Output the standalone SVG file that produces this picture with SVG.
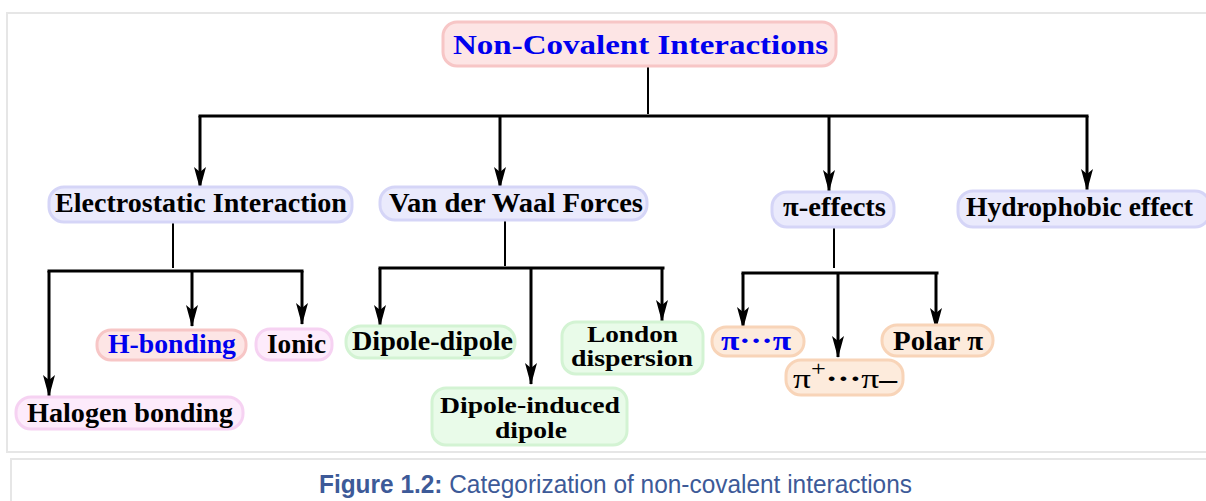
<svg xmlns="http://www.w3.org/2000/svg" width="1206" height="501" viewBox="0 0 1206 501">
<style>
  .t { font-family: "Liberation Serif", "Times New Roman", serif; font-weight: bold; font-size: 27px; fill: #000; }
  .two { font-size: 24px; }
  .blue { fill: #0000ee; }
  .reg { font-weight: normal; }
  .pink { fill: #fde5e5; stroke: #f7c6c6; stroke-width: 3; }
  .lav { fill: #eaeafc; stroke: #d5d5f7; stroke-width: 3; }
  .mag { fill: #fdebfb; stroke: #f6d2f2; stroke-width: 3; }
  .grn { fill: #e9fbe9; stroke: #d3f3d3; stroke-width: 3; }
  .pch { fill: #fdebdc; stroke: #f8d4b8; stroke-width: 3; }
  .ln { stroke: #000; stroke-width: 3; fill: none; }
  .thin { stroke: #000; stroke-width: 2; fill: none; }
  .arr { stroke: #000; stroke-width: 3; fill: none; marker-end: url(#ah); }
  .cap { font-family: "Liberation Sans Narrow", "Liberation Sans", Arial, sans-serif; font-size: 25px; fill: #3d5a98; }
</style>
<defs>
  <marker id="ah" markerUnits="userSpaceOnUse" viewBox="-1 -7 24 14" markerWidth="24" markerHeight="14" refX="21" refY="0" orient="auto">
    <path d="M0,-6 L22,0 L0,6 L5,0 Z" fill="#000"/>
  </marker>
</defs>
<rect width="1206" height="501" fill="#fff"/>
<!-- frames -->
<rect x="7" y="13" width="1210" height="439" fill="none" stroke="#e6e6e6" stroke-width="2"/>
<rect x="11" y="459" width="1210" height="60" fill="none" stroke="#e6e6e6" stroke-width="2"/>
<text class="cap" x="319" y="493" textLength="593" lengthAdjust="spacingAndGlyphs"><tspan font-weight="bold">Figure 1.2:</tspan> Categorization of non-covalent interactions</text>

<g id="connectors">
  <line class="thin" x1="648" y1="66" x2="648" y2="114"/>
  <line class="ln" x1="198.5" y1="116" x2="1088.5" y2="116"/>
  <path class="arr" d="M200,116 V188"/>
  <path class="arr" d="M500,116 V188"/>
  <path class="arr" d="M829,116 V191"/>
  <path class="arr" d="M1087,116 V190"/>

  <line class="thin" x1="173" y1="222" x2="173" y2="268"/>
  <line class="ln" x1="47.5" y1="271" x2="303.5" y2="271"/>
  <path class="arr" d="M49,271 V396"/>
  <path class="arr" d="M192,271 V326"/>
  <path class="arr" d="M302,271 V324"/>

  <line class="thin" x1="505" y1="221" x2="505" y2="266"/>
  <line class="ln" x1="378.5" y1="268" x2="664.5" y2="268"/>
  <path class="arr" d="M380,268 V326"/>
  <path class="arr" d="M531,268 V384"/>
  <path class="arr" d="M662,268 V321"/>

  <line class="thin" x1="834" y1="228" x2="834" y2="268"/>
  <line class="ln" x1="741.5" y1="273" x2="938.5" y2="273"/>
  <path class="arr" d="M743,273 V328"/>
  <path class="arr" d="M838,273 V357"/>
  <path class="arr" d="M936,273 V329"/>
</g>

<g id="root">
  <rect class="pink" x="443" y="22" width="393" height="44" rx="14"/>
  <text class="t blue" x="453" y="54" font-size="32" textLength="375" lengthAdjust="spacingAndGlyphs">Non-Covalent Interactions</text>
</g>
<g id="electrostatic">
  <rect class="lav" x="49" y="187" width="303" height="35" rx="15"/>
  <text class="t" x="55" y="212" textLength="292" lengthAdjust="spacingAndGlyphs">Electrostatic Interaction</text>
</g>
<g id="vanderwaal">
  <rect class="lav" x="380" y="187" width="267" height="33" rx="15"/>
  <text class="t" x="389" y="212" textLength="254" lengthAdjust="spacingAndGlyphs">Van der Waal Forces</text>
</g>
<g id="pieffects">
  <rect class="lav" x="772" y="192" width="122" height="35" rx="15"/>
  <text class="t" x="783" y="216" textLength="103" lengthAdjust="spacingAndGlyphs">π-effects</text>
</g>
<g id="hydrophobic">
  <rect class="lav" x="958" y="191" width="252" height="36" rx="15"/>
  <text class="t" x="966" y="216" textLength="227" lengthAdjust="spacingAndGlyphs">Hydrophobic effect</text>
</g>

<g id="hbonding">
  <rect class="pink" x="97" y="330" width="149" height="30" rx="14"/>
  <text class="t blue" x="108" y="353" textLength="128" lengthAdjust="spacingAndGlyphs">H-bonding</text>
</g>
<g id="ionic">
  <rect class="mag" x="256" y="329" width="76" height="31" rx="14"/>
  <text class="t" x="267" y="353" textLength="59" lengthAdjust="spacingAndGlyphs">Ionic</text>
</g>
<g id="halogen">
  <rect class="mag" x="16" y="397" width="227" height="32" rx="15"/>
  <text class="t" x="27" y="422" textLength="206" lengthAdjust="spacingAndGlyphs">Halogen bonding</text>
</g>

<g id="dipoledipole">
  <rect class="grn" x="346" y="326" width="169" height="32" rx="15"/>
  <text class="t" x="352" y="350" textLength="161" lengthAdjust="spacingAndGlyphs">Dipole-dipole</text>
</g>
<g id="london">
  <rect class="grn" x="562" y="322" width="141" height="52" rx="14"/>
  <text class="t two" x="587" y="342" textLength="91" lengthAdjust="spacingAndGlyphs">London</text>
  <text class="t two" x="571" y="366" textLength="122" lengthAdjust="spacingAndGlyphs">dispersion</text>
</g>
<g id="dipoleinduced">
  <rect class="grn" x="432" y="388" width="195" height="57" rx="14"/>
  <text class="t two" x="440" y="413" textLength="180" lengthAdjust="spacingAndGlyphs">Dipole-induced</text>
  <text class="t two" x="495" y="438" textLength="72" lengthAdjust="spacingAndGlyphs">dipole</text>
</g>

<g id="pipi">
  <rect class="pch" x="712" y="327" width="92" height="29" rx="14"/>
  <text class="t blue" x="721" y="350" font-size="28" textLength="70" lengthAdjust="spacingAndGlyphs">π···π</text>
</g>
<g id="cationpi">
  <rect class="pch" x="786" y="360" width="117" height="35" rx="15"/>
  <text class="t reg" x="793" y="388" font-size="28" textLength="104" lengthAdjust="spacingAndGlyphs">π<tspan font-size="20" dy="-12">+</tspan><tspan dy="12" font-weight="bold">···</tspan>π<tspan font-weight="bold">–</tspan></text>
</g>
<g id="polarpi">
  <rect class="pch" x="882" y="325" width="111" height="31" rx="15"/>
  <text class="t" x="893" y="350" textLength="90" lengthAdjust="spacingAndGlyphs">Polar π</text>
</g>
</svg>
